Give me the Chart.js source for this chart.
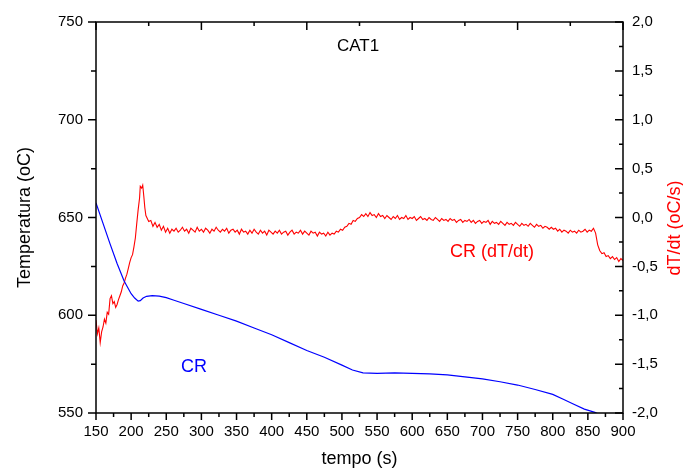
<!DOCTYPE html>
<html><head><meta charset="utf-8">
<script src="https://cdn.jsdelivr.net/npm/chart.js@4.4.1/dist/chart.umd.min.js"></script>
<style>html,body{margin:0;padding:0;background:#fff;}canvas{display:block;}</style>
</head><body>
<canvas id="c" width="683" height="470"></canvas>
<script>
// ---- DATA ----
const crTime = [150,160,170,180,190,200,205,210,213,217,222,230,240,250,260,275,300,325,350,375,400,425,450,475,500,515,530,550,575,600,625,650,675,700,725,750,775,800,815,830,845,860,865];
const crTemp = [657.5,647,636.5,626.5,617.5,611,608.8,607.2,607.5,608.8,609.7,610,609.8,609,607.8,606,603,600,597,593.5,590,586,582,578.5,574.5,572,570.5,570.3,570.5,570.3,570,569.5,568.5,567.5,566,564.3,562,559.5,557,554.5,552,550.3,549.5];

const rateTime = [150,152,154,156,158,160,162,164,166,168,170,172,174,176,178,180,182,184,186,188,190,192,194,196,198,200,202,204,206,208,210,212,213,215,216.5,218,219.5,221,223,225,
228,231,234,237,240,243,246,249,252,255,
258,261,264,267,270,273,276,279,282,285,
288,291,294,297,300,303,306,309,312,315,
318,321,324,327,330,333,336,339,342,345,
348,351,354,357,360,363,366,369,372,375,
378,381,384,387,390,393,396,399,402,405,
408,411,414,417,420,423,426,429,432,435,
438,441,444,447,450,453,456,459,462,465,
468,471,474,477,480,483,486,489,492,495,
498,501,504,507,510,513,516,519,522,525,
528,531,534,537,540,543,546,549,552,555,
558,561,564,567,570,573,576,579,582,585,
588,591,594,597,600,603,606,609,612,615,
618,621,624,627,630,633,636,639,642,645,
648,651,654,657,660,663,666,669,672,675,
678,681,684,687,690,693,696,699,702,705,
708,711,714,717,720,723,726,729,732,735,
738,741,744,747,750,753,756,759,762,765,
768,771,774,777,780,783,786,789,792,795,
798,801,804,807,810,813,816,819,822,825,
828,831,834,837,840,843,846,849,852,855,
858,861,864,867,870,873,876,879,882,885,
888,891,894,897,900];
const rateValue = [-1.05,-1.19,-1.13,-1.28,-1.17,-1.12,-1.04,-1.08,-0.97,-0.99,-0.83,-0.80,-0.88,-0.86,-0.92,-0.89,-0.84,-0.80,-0.76,-0.70,-0.67,-0.62,-0.58,-0.52,-0.46,-0.41,-0.38,-0.30,-0.21,-0.06,0.08,0.20,0.32,0.30,0.33,0.22,0.10,0.02,-0.01,-0.04,
-0.03,-0.09,-0.05,-0.10,-0.07,-0.13,-0.09,-0.15,-0.11,-0.16,
-0.12,-0.14,-0.11,-0.15,-0.13,-0.10,-0.14,-0.12,-0.16,-0.11,
-0.13,-0.15,-0.10,-0.14,-0.12,-0.15,-0.11,-0.13,-0.16,-0.12,
-0.14,-0.10,-0.13,-0.15,-0.12,-0.14,-0.11,-0.16,-0.13,-0.12,
-0.15,-0.13,-0.17,-0.12,-0.15,-0.14,-0.17,-0.13,-0.16,-0.12,
-0.15,-0.17,-0.13,-0.16,-0.14,-0.18,-0.13,-0.15,-0.17,-0.14,
-0.16,-0.13,-0.17,-0.15,-0.14,-0.18,-0.15,-0.13,-0.17,-0.15,
-0.16,-0.13,-0.17,-0.14,-0.16,-0.18,-0.14,-0.16,-0.15,-0.19,
-0.15,-0.17,-0.16,-0.19,-0.15,-0.18,-0.16,-0.17,-0.14,-0.15,
-0.12,-0.13,-0.10,-0.09,-0.06,-0.07,-0.03,-0.04,-0.01,0.00,
0.03,0.01,0.04,0.01,0.05,0.02,0.03,0.00,0.04,0.01,
0.02,-0.01,0.02,0.00,-0.02,0.01,-0.01,0.02,-0.02,0.00,
-0.01,0.02,-0.02,0.00,-0.01,0.01,-0.03,-0.01,0.01,-0.02,
-0.01,-0.03,0.00,-0.02,-0.03,0.00,-0.02,-0.04,-0.01,-0.03,
-0.02,-0.04,-0.01,-0.03,-0.02,-0.05,-0.03,-0.02,-0.05,-0.03,
-0.04,-0.02,-0.05,-0.03,-0.06,-0.04,-0.03,-0.06,-0.04,-0.05,
-0.03,-0.07,-0.04,-0.06,-0.05,-0.07,-0.04,-0.06,-0.08,-0.05,
-0.07,-0.06,-0.08,-0.05,-0.07,-0.09,-0.06,-0.08,-0.07,-0.09,
-0.06,-0.08,-0.10,-0.07,-0.09,-0.08,-0.11,-0.09,-0.10,-0.12,
-0.10,-0.12,-0.11,-0.14,-0.12,-0.15,-0.13,-0.14,-0.16,-0.13,
-0.15,-0.14,-0.16,-0.13,-0.15,-0.14,-0.12,-0.15,-0.13,-0.14,
-0.11,-0.16,-0.28,-0.34,-0.37,-0.36,-0.40,-0.39,-0.42,-0.40,
-0.43,-0.41,-0.45,-0.42,-0.44];

const xTickValues = [150,200,250,300,350,400,450,500,550,600,650,700,750,800,850,900];
const xMinorValues = [175,225,275,325,375,425,475,525,575,625,675,725,775,825,875];
const topMajorValues = [150,300,450,600,750,900];
const topMinorValues = [225,375,525,675,825];
const leftTickValues = [550,600,650,700,750];
const leftMinorValues = [575,625,675,725];
const rightTickValues = [-2,-1.5,-1,-0.5,0,0.5,1,1.5,2];
const rightMinorValues = [-1.75,-1.25,-0.75,-0.25,0.25,0.75,1.25,1.75];

const FONT = "'Liberation Sans', Arial, sans-serif";

const framePlugin = {
  id: 'frame',
  afterDatasetsDraw(chart) {
    const {ctx, chartArea: a, scales} = chart;
    const x = scales.x, y = scales.y, y2 = scales.y2;
    ctx.save();
    ctx.strokeStyle = '#000';
    ctx.lineWidth = 1.5;
    ctx.strokeRect(a.left, a.top, a.right - a.left, a.bottom - a.top);
    ctx.beginPath();
    const hx = (vals, len, base, dir) => vals.forEach(v => { const p = x.getPixelForValue(v); ctx.moveTo(p, base); ctx.lineTo(p, base + dir * len); });
    const vy = (sc, vals, len, base, dir) => vals.forEach(v => { const p = sc.getPixelForValue(v); ctx.moveTo(base, p); ctx.lineTo(base + dir * len, p); });
    hx(xTickValues, 7, a.bottom, 1);
    hx(xMinorValues, 4, a.bottom, 1);
    hx(topMajorValues, 8, a.top, 1);
    hx(topMinorValues, 4, a.top, 1);
    vy(y, leftTickValues, 8, a.left, -1);
    vy(y, leftMinorValues, 5, a.left, -1);
    vy(y2, rightTickValues, 8, a.right, -1);
    vy(y2, rightMinorValues, 4, a.right, -1);
    ctx.stroke();

    ctx.textAlign = 'center';
    ctx.textBaseline = 'middle';
    ctx.font = '17px ' + FONT;
    ctx.fillStyle = '#000';
    ctx.fillText('CAT1', 358, 46);
    ctx.font = '18px ' + FONT;
    ctx.fillStyle = '#0000ff';
    ctx.fillText('CR', 194, 367);
    ctx.fillStyle = '#ff0000';
    ctx.fillText('CR (dT/dt)', 492, 252);
    ctx.translate(675, 228);
    ctx.rotate(-Math.PI / 2);
    ctx.fillText('dT/dt (oC/s)', 0, 0);
    ctx.restore();
  }
};

const toXY = (xs, ys) => xs.map((t, i) => ({x: t, y: ys[i]}));

new Chart(document.getElementById('c'), {
  type: 'line',
  data: {
    datasets: [
      { label: 'CR', data: toXY(crTime, crTemp), yAxisID: 'y', borderColor: '#0000ff', borderWidth: 1.2, pointRadius: 0, tension: 0, fill: false },
      { label: 'CR (dT/dt)', data: toXY(rateTime, rateValue), yAxisID: 'y2', borderColor: '#ff0000', borderWidth: 1.1, pointRadius: 0, tension: 0, fill: false }
    ]
  },
  options: {
    responsive: false,
    animation: false,
    devicePixelRatio: 1,
    layout: { padding: { top: 20, left: 0, right: 0, bottom: 0 } },
    plugins: { legend: { display: false }, tooltip: { enabled: false } },
    scales: {
      x: {
        type: 'linear', position: 'bottom', min: 150, max: 900,
        grid: { display: false, drawTicks: false }, border: { display: false },
        afterBuildTicks: s => { s.ticks = xTickValues.map(v => ({ value: v })); },
        ticks: { color: '#000', font: { family: FONT, size: 15 }, padding: 10, maxRotation: 0, autoSkip: false },
        title: { display: true, text: 'tempo (s)', color: '#000', font: { family: FONT, size: 18 }, padding: { top: 0, bottom: 0 } },
        afterFit: s => { s.height = 57; }
      },
      y: {
        type: 'linear', position: 'left', min: 550, max: 750,
        grid: { display: false, drawTicks: false }, border: { display: false },
        afterBuildTicks: s => { s.ticks = leftTickValues.map(v => ({ value: v })); },
        ticks: { color: '#000', font: { family: FONT, size: 15 }, padding: 13 },
        title: { display: true, text: 'Temperatura (oC)', color: '#000', font: { family: FONT, size: 18 }, padding: { top: 14, bottom: 0 } },
        afterFit: s => { s.width = 96; }
      },
      y2: {
        type: 'linear', position: 'right', min: -2, max: 2,
        grid: { display: false, drawTicks: false }, border: { display: false },
        afterBuildTicks: s => { s.ticks = rightTickValues.map(v => ({ value: v })); },
        ticks: { color: '#000', font: { family: FONT, size: 15 }, padding: 9,
          callback: v => Number(v).toFixed(1).replace('.', ',') },
        afterFit: s => { s.width = 60; }
      }
    }
  },
  plugins: [framePlugin]
});
</script>
</body></html>
